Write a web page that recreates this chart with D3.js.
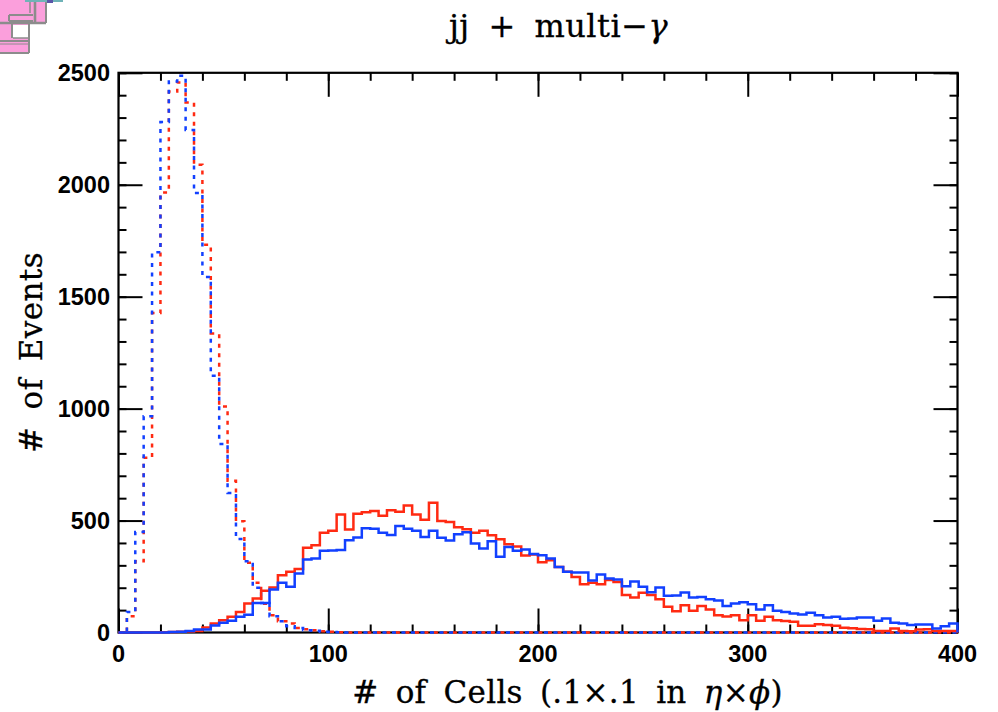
<!DOCTYPE html>
<html><head><meta charset="utf-8">
<script src="https://cdn.jsdelivr.net/npm/d3@7"></script>
<style>html,body{margin:0;padding:0;background:#fff}svg{display:block}</style>
</head><body><svg id="c" width="998" height="712"></svg>
<script>
const binWidth = 4;
const xMajor = [0,100,200,300,400];
const yMajor = [0,500,1000,1500,2000,2500];
const xMinor = d3.range(0,401,20);
const yMinor = d3.range(0,2501,100);
const titleText = "jj + multi\u2212";
const yTitleText = "# of Events";
const blueDashed = [0,92,449,966,1698,2280,2461,2487,2245,1963,1588,1147,842,623,418,318,200,132,73,50,28,20,10,8,3,2,1,0,0,0,0,0,0,0,0,0,0,0,0,0,0,0,0,0,0,0,0,0,0,0,0,0,0,0,0,0,0,0,0,0,0,0,0,0,0,0,0,0,0,0,0,0,0,0,0,0,0,0,0,0,0,0,0,0,0,0,0,0,0,0,0,0,0,0,0,0,0,0,0,0];
const redDashed = [0,73,318,780,1427,1965,2416,2457,2367,2089,1732,1335,1010,678,497,311,222,128,77,50,40,20,15,10,6,3,1,0,0,0,0,0,0,0,0,0,0,0,0,0,0,0,0,0,0,0,0,0,0,0,0,0,0,0,0,0,0,0,0,0,0,0,0,0,0,0,0,0,0,0,0,0,0,0,0,0,0,0,0,0,0,0,0,0,0,0,0,0,0,0,0,0,0,0,0,0,0,0,0,0];
const blueSolid = [0,0,0,0,0,0,2,3,7,13,13,31,43,52,70,79,132,132,192,222,204,
 263,326,330,365,366,368,412,424,466,463,446,435,476,463,454,427,455,423,411,439,448,397,375,408,338,382,365,371,
 351,345,330,293,271,268,268,232,259,241,237,207,228,204,180,201,164,165,179,156,159,149,143,118,129,135,126,103,
 122,97,92,85,80,88,77,67,70,61,62,67,67,52,62,43,40,33,36,36,18,28,40];
const redSolid = [0,0,0,0,0,1,2,3,4,7,22,40,55,70,92,129,152,186,201,256,271,
 284,379,390,445,455,527,460,530,537,543,522,546,539,567,527,504,580,498,494,470,461,446,455,434,417,394,384,344,
 348,314,323,293,271,248,216,222,216,234,226,167,156,177,167,149,115,95,122,97,118,103,77,71,77,55,77,52,
 70,55,51,48,30,30,37,33,30,21,19,16,15,7,7,18,7,6,13,15,7,7,7];

const svg = d3.select("#c");
const L=118.5,R=957.5,T=72.8,B=632.5;
const x = d3.scaleLinear().domain([0,400]).range([L,R]);
const y = d3.scaleLinear().domain([0,2500]).range([B,T]);

// corner decoration fragment
const deco = svg.append("g");
deco.append("rect").attr("x",0).attr("y",0).attr("width",47).attr("height",23).attr("fill","#fb9fdc");
deco.append("rect").attr("x",0).attr("y",23).attr("width",29).attr("height",30).attr("fill","#fb9fdc");
deco.append("rect").attr("x",13).attr("y",25).attr("width",15).attr("height",13).attr("fill","#fff");
[[0,23,46,23,2.4],[46,0,46,23,2],[35,0,35,22,2.6],[9,15,33,15,2],[9,21,33,21,2],[29,23,29,53,2],[12,24,12,38,2],[13,38,28,38,1.5],[0,41,28,41,2],[0,44,28,44,1],[0,53,29,53,2],[30,0,30,13,1.5],[9,15,9,21,2]].forEach(s=>
 deco.append("line").attr("x1",s[0]).attr("y1",s[1]).attr("x2",s[2]).attr("y2",s[3]).attr("stroke","#8c8c8c").attr("stroke-width",s[4]));
deco.append("rect").attr("x",25).attr("y",0).attr("width",38).attr("height",2).attr("fill","#6fb3b8");
deco.append("rect").attr("x",47).attr("y",0).attr("width",6).attr("height",3).attr("fill","#5a55a8");

// histograms
const line = d3.line().x(d=>x(d[0])).y(d=>y(d[1])).curve(d3.curveStepAfter);
function pts(vals){
  const p = vals.map((v,i)=>[i*binWidth,v]);
  p.push([vals.length*binWidth,vals[vals.length-1]]);
  p.push([vals.length*binWidth,0]);
  return p;
}
function axisLayer(){
  const g = svg.append("g");
  const mk = (a,tr,vals,size)=>{
    const s = g.append("g").attr("transform",tr).call(a.tickValues(vals).tickSize(size).tickFormat("").tickSizeOuter(0));
    s.selectAll("path.domain").remove();
    s.selectAll("line").attr("stroke","#000").attr("stroke-width",2);
  };
  mk(d3.axisTop(x),`translate(0,${B})`,xMinor,8);
  mk(d3.axisTop(x),`translate(0,${B})`,xMajor,24);
  mk(d3.axisBottom(x),`translate(0,${T})`,xMinor,8);
  mk(d3.axisBottom(x),`translate(0,${T})`,xMajor,24);
  mk(d3.axisRight(y),`translate(${L},0)`,yMinor,8);
  mk(d3.axisRight(y),`translate(${L},0)`,yMajor,24);
  mk(d3.axisLeft(y),`translate(${R},0)`,yMinor,8);
  mk(d3.axisLeft(y),`translate(${R},0)`,yMajor,24);
  g.append("rect").attr("x",L).attr("y",T).attr("width",R-L).attr("height",B-T)
   .attr("fill","none").attr("stroke","#000").attr("stroke-width",2.2);
}
axisLayer();
const RED="#ff2a12", BLUE="#1240ff";
const draw=(v,c,dash)=>svg.append("path").attr("d",line(pts(v))).attr("fill","none").attr("stroke",c)
  .attr("stroke-width",2.5).attr("stroke-dasharray",dash||null).attr("stroke-linejoin","miter");
draw(redDashed,RED,"4,5.5");
draw(blueDashed,BLUE,"4,5.5");
draw(redSolid,RED);
draw(blueSolid,BLUE);

// tick labels
const tickFont = "'Liberation Sans',sans-serif";
const gl = svg.append("g").attr("font-family",tickFont).attr("font-weight","700").attr("font-size",23.5).attr("fill","#000");
xMajor.forEach(v=>gl.append("text").attr("x",x(v)).attr("y",662).attr("text-anchor","middle").text(v));
yMajor.forEach(v=>gl.append("text").attr("x",110).attr("y",y(v)+8.5).attr("text-anchor","end").text(v));

// titles
const serif = "'DejaVu Serif',serif";
const tt = svg.append("text").attr("x",558.5).attr("y",37).attr("text-anchor","middle").attr("font-family",serif)
  .attr("font-size",32).attr("word-spacing",8).attr("letter-spacing",0.5).attr("stroke","#000").attr("stroke-width",0.3).attr("fill","#000").text(titleText);
tt.append("tspan").attr("font-style","italic").text("\u03B3");
const xt = svg.append("text").attr("x",567.5).attr("y",703).attr("text-anchor","middle").attr("font-family",serif)
  .attr("font-size",31).attr("word-spacing",7).attr("letter-spacing",0.3).attr("stroke","#000").attr("stroke-width",0.3).attr("fill","#000").text("# of Cells (.1\u00D7.1 in ");
xt.append("tspan").attr("font-style","italic").text("\u03B7");
xt.append("tspan").text("\u00D7");
xt.append("tspan").attr("font-style","italic").text("\u03D5");
xt.append("tspan").text(")");
svg.append("text").attr("transform","translate(42,352.5) rotate(-90)").attr("text-anchor","middle").attr("font-family",serif)
  .attr("font-size",31).attr("word-spacing",7).attr("letter-spacing",0.4).attr("stroke","#000").attr("stroke-width",0.3).attr("fill","#000").text(yTitleText);
</script></body></html>
